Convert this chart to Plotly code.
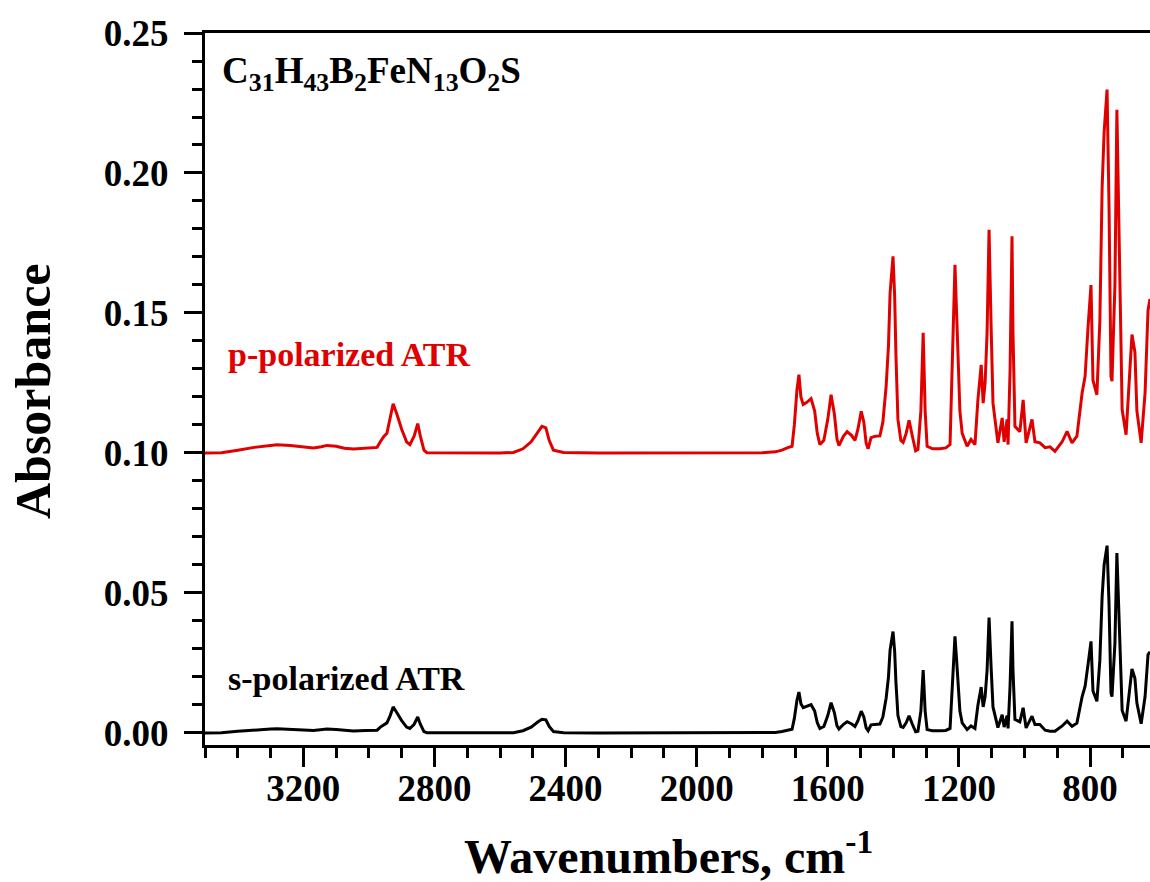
import plotly.graph_objects as go

# Wavenumbers (cm^-1), shared by both spectra
wavenumber = [
    3500, 3450, 3400, 3350, 3300, 3280, 3240, 3200, 3169, 3145, 3128, 3100, 3075, 3047, 3010,
    2975, 2965, 2955, 2945, 2935, 2926, 2915, 2900, 2885, 2875, 2862, 2851, 2843, 2832, 2823,
    2700, 2600, 2559, 2530, 2505, 2485, 2472, 2460, 2450, 2437, 2406, 2300, 2000, 1800,
    1760, 1740, 1722, 1709, 1702, 1694, 1688, 1682, 1675, 1665, 1651, 1640, 1632, 1624, 1612,
    1600, 1590, 1580, 1572, 1566, 1552, 1541, 1527, 1517, 1508, 1498, 1490, 1483, 1477, 1468,
    1455, 1441, 1432, 1422, 1415, 1410, 1401, 1396, 1392, 1386, 1377, 1370, 1361, 1352, 1342,
    1332, 1325, 1316, 1309, 1303, 1297, 1280, 1258, 1240, 1227, 1218, 1212, 1207, 1203, 1197,
    1190, 1175, 1163, 1151, 1142, 1132, 1126, 1120, 1114, 1108, 1102, 1096, 1081, 1068, 1062,
    1053, 1050, 1044, 1038, 1035, 1029, 1014, 1004, 995, 977, 968, 953, 937, 922, 907,
    885, 870, 855, 840, 824, 815, 806, 797, 791, 779, 770, 763, 757, 748, 742,
    736, 733, 724, 718, 712, 702, 690, 678, 672, 663, 657, 644, 632, 623, 617,
]

# p-polarized ATR absorbance (shown with its 0.10 offset, as in the figure)
p_polarized = [
    0.1000, 0.1001, 0.1010, 0.1020, 0.1027, 0.1029, 0.1027, 0.1022, 0.1018, 0.1022, 0.1027, 0.1024, 0.1017, 0.1014, 0.1017,
    0.1020, 0.1040, 0.1058, 0.1070, 0.1120, 0.1176, 0.1140, 0.1085, 0.1040, 0.1030, 0.1060, 0.1105, 0.1060, 0.1010, 0.1001,
    0.1000, 0.1000, 0.1002, 0.1015, 0.1040, 0.1075, 0.1095, 0.1090, 0.1045, 0.1010, 0.1002, 0.1000, 0.1000, 0.1001,
    0.1004, 0.1010, 0.1019, 0.1024, 0.1100, 0.1226, 0.1280, 0.1200, 0.1173, 0.1180, 0.1194, 0.1150, 0.1070, 0.1030, 0.1045,
    0.1120, 0.1208, 0.1140, 0.1050, 0.1026, 0.1060, 0.1076, 0.1062, 0.1045, 0.1085, 0.1149, 0.1110, 0.1035, 0.1015, 0.1055,
    0.1060, 0.1061, 0.1110, 0.1238, 0.1380, 0.1570, 0.1702, 0.1560, 0.1345, 0.1120, 0.1045, 0.1038, 0.1070, 0.1117, 0.1060,
    0.1008, 0.1012, 0.1150, 0.1429, 0.1150, 0.1024, 0.1015, 0.1015, 0.1018, 0.1030, 0.1430, 0.1672, 0.1500, 0.1370, 0.1150,
    0.1070, 0.1024, 0.1048, 0.1030, 0.1190, 0.1315, 0.1178, 0.1250, 0.1430, 0.1797, 0.1465, 0.1178, 0.1036, 0.1125, 0.1040,
    0.1120, 0.1030, 0.1290, 0.1774, 0.1430, 0.1095, 0.1076, 0.1190, 0.1036, 0.1120, 0.1040, 0.1036, 0.1019, 0.1022, 0.1006,
    0.1040, 0.1077, 0.1036, 0.1060, 0.1215, 0.1274, 0.1450, 0.1600, 0.1260, 0.1208, 0.1470, 0.1950, 0.2145, 0.2298, 0.1880,
    0.1274, 0.1256, 0.1600, 0.2226, 0.1790, 0.1155, 0.1065, 0.1330, 0.1423, 0.1360, 0.1150, 0.1036, 0.1215, 0.1510, 0.1550,
]

# s-polarized ATR absorbance
s_polarized = [
    0.0000, 0.0001, 0.0006, 0.0011, 0.0014, 0.0015, 0.0014, 0.0011, 0.0009, 0.0011, 0.0014, 0.0012, 0.0009, 0.0007, 0.0009,
    0.0010, 0.0021, 0.0030, 0.0036, 0.0062, 0.0093, 0.0073, 0.0044, 0.0021, 0.0016, 0.0031, 0.0057, 0.0031, 0.0005, 0.0001,
    0.0000, 0.0000, 0.0001, 0.0008, 0.0021, 0.0039, 0.0049, 0.0047, 0.0023, 0.0005, 0.0001, 0.0000, 0.0000, 0.0000,
    0.0002, 0.0005, 0.0010, 0.0013, 0.0052, 0.0118, 0.0146, 0.0104, 0.0090, 0.0094, 0.0101, 0.0078, 0.0036, 0.0016, 0.0023,
    0.0062, 0.0108, 0.0073, 0.0026, 0.0014, 0.0031, 0.0040, 0.0032, 0.0023, 0.0044, 0.0078, 0.0057, 0.0018, 0.0008, 0.0029,
    0.0031, 0.0032, 0.0057, 0.0124, 0.0198, 0.0296, 0.0362, 0.0291, 0.0179, 0.0062, 0.0023, 0.0020, 0.0036, 0.0061, 0.0031,
    0.0004, 0.0006, 0.0078, 0.0225, 0.0078, 0.0012, 0.0008, 0.0008, 0.0009, 0.0016, 0.0224, 0.0345, 0.0260, 0.0192, 0.0078,
    0.0036, 0.0012, 0.0025, 0.0016, 0.0099, 0.0164, 0.0093, 0.0130, 0.0224, 0.0412, 0.0242, 0.0093, 0.0019, 0.0065, 0.0021,
    0.0062, 0.0016, 0.0167, 0.0399, 0.0224, 0.0048, 0.0040, 0.0090, 0.0018, 0.0060, 0.0030, 0.0030, 0.0010, 0.0006, 0.0006,
    0.0025, 0.0042, 0.0024, 0.0035, 0.0130, 0.0167, 0.0245, 0.0327, 0.0150, 0.0113, 0.0260, 0.0488, 0.0600, 0.0669, 0.0460,
    0.0143, 0.0130, 0.0320, 0.0643, 0.0410, 0.0080, 0.0042, 0.0175, 0.0229, 0.0195, 0.0107, 0.0033, 0.0130, 0.0280, 0.0290,
]

x_tick_vals = [3200, 2800, 2400, 2000, 1600, 1200, 800]
y_tick_vals = [0.00, 0.05, 0.10, 0.15, 0.20, 0.25]

FONT = "Liberation Serif"
RED = "#E10000"

fig = go.Figure()
fig.add_trace(go.Scatter(x=wavenumber, y=p_polarized, mode="lines",
                         line=dict(color=RED, width=3), name="p-polarized ATR",
                         showlegend=False))
fig.add_trace(go.Scatter(x=wavenumber, y=s_polarized, mode="lines",
                         line=dict(color="black", width=3), name="s-polarized ATR",
                         showlegend=False))

fig.update_layout(
    width=1150, height=882,
    margin=dict(l=205, r=0, t=33, b=137),
    paper_bgcolor="white", plot_bgcolor="white",
    font=dict(family=FONT, color="black"),
)

fig.update_xaxes(
    range=[3500, 617], showgrid=False, zeroline=False,
    showline=True, linecolor="black", linewidth=3, mirror=True,
    ticks="outside", ticklen=19, tickwidth=2.5, tickcolor="black",
    tickvals=x_tick_vals, ticktext=[str(v) for v in x_tick_vals],
    tickfont=dict(family=FONT, size=37, color="black", weight="bold"),
    ticklabelstandoff=-10,
    minor=dict(ticks="outside", dtick=100, ticklen=10, tickwidth=2.5, tickcolor="black", showgrid=False),
)
fig.update_yaxes(
    range=[-0.0043, 0.25], showgrid=False, zeroline=False,
    showline=True, linecolor="black", linewidth=3, mirror=False,
    ticks="outside", ticklen=18, tickwidth=2.5, tickcolor="black",
    tickvals=y_tick_vals, ticktext=[f"{v:.2f}" for v in y_tick_vals],
    tickfont=dict(family=FONT, size=37, color="black", weight="bold"),
    ticklabelstandoff=8,
    minor=dict(ticks="outside", dtick=0.01, ticklen=10, tickwidth=2.5, tickcolor="black", showgrid=False),
)

def px_x(px):
    return (px - 205) / 945.0

def px_y(py):
    return (745 - py) / 712.0

fig.add_annotation(text="<b>Wavenumbers, cm<sup>-1</sup></b>", xref="paper", yref="paper",
                   x=px_x(668), y=px_y(853), xanchor="center", yanchor="middle", showarrow=False,
                   font=dict(family=FONT, size=48, color="black"))
fig.add_annotation(text="<b>Absorbance</b>", xref="paper", yref="paper", textangle=-90,
                   x=px_x(33), y=px_y(391), xanchor="center", yanchor="middle", showarrow=False,
                   font=dict(family=FONT, size=50, color="black"))
fig.add_annotation(text="<b>C<sub>31</sub>H<sub>43</sub>B<sub>2</sub>FeN<sub>13</sub>O<sub>2</sub>S</b>",
                   xref="paper", yref="paper", x=px_x(220), y=px_y(74),
                   xanchor="left", yanchor="middle", showarrow=False,
                   font=dict(family=FONT, size=37, color="black"))
fig.add_annotation(text="<b>p-polarized ATR</b>", xref="paper", yref="paper",
                   x=px_x(226), y=px_y(354), xanchor="left", yanchor="middle", showarrow=False,
                   font=dict(family=FONT, size=34, color=RED))
fig.add_annotation(text="<b>s-polarized ATR</b>", xref="paper", yref="paper",
                   x=px_x(226), y=px_y(678), xanchor="left", yanchor="middle", showarrow=False,
                   font=dict(family=FONT, size=34, color="black"))

fig.write_html("out.html", config={"displayModeBar": False},
               post_script="document.body.style.margin='0px';document.body.style.overflow='hidden';")
